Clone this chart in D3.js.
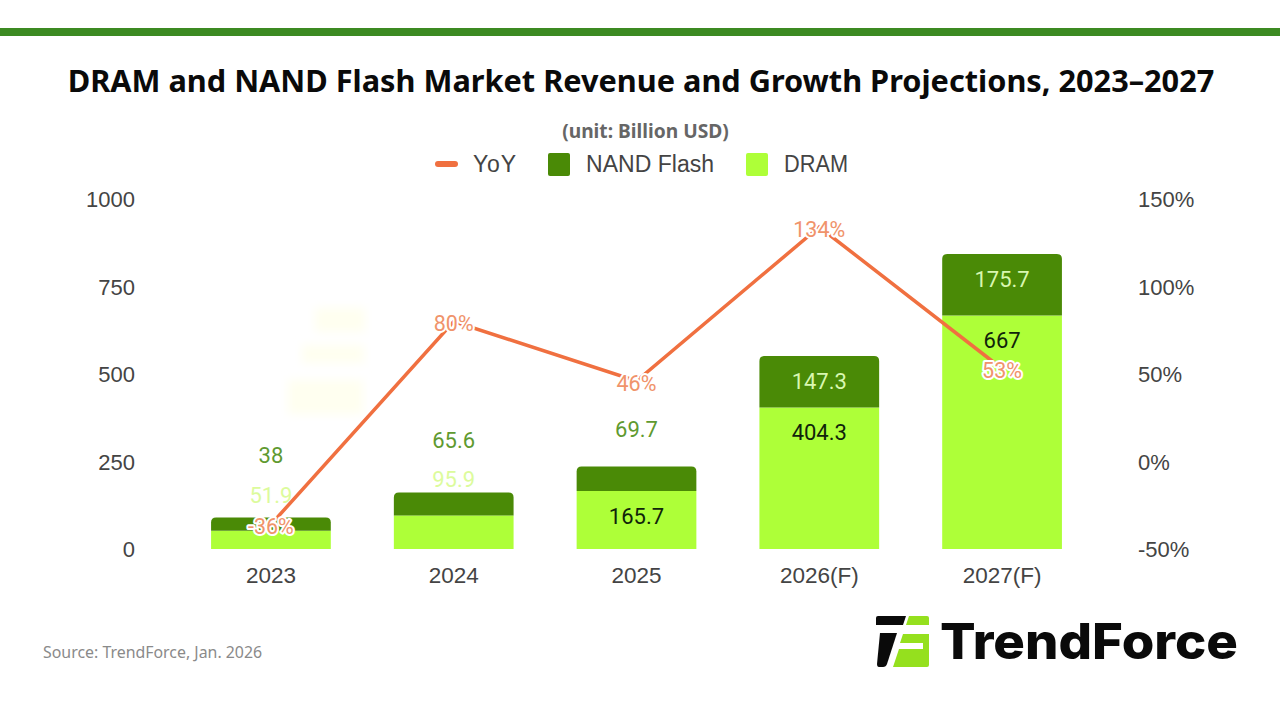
<!DOCTYPE html>
<html>
<head>
    <title>DRAM and NAND Flash Market Revenue</title>
    <style>
        html, body { margin: 0; background: #fff; }
        svg { display: block; }
        .axis text { font-family: "Liberation Sans", Arial, sans-serif; font-size: 22px; fill: #444; }
        .axis path, .axis line { display: none; }
        .legend text { font-family: "Liberation Sans", Arial, sans-serif; font-size: 23px; fill: #444; }
        .val { font-family: Roboto, sans-serif; font-size: 22px; text-anchor: middle; dominant-baseline: central; }
        .yoy { font-family: Roboto, sans-serif; font-size: 21.5px; fill: #f0936b; text-anchor: middle; dominant-baseline: central;
               stroke: #fff; stroke-width: 4px; paint-order: stroke; stroke-linejoin: round; }
    </style>
    <script src="https://cdnjs.cloudflare.com/ajax/libs/d3/7.8.5/d3.min.js"></script>
</head>
<body>
    <div id="chart"></div>
    <script>
        const years = ["2023", "2024", "2025", "2026(F)", "2027(F)"];
        const dram = [51.9, 95.9, 165.7, 404.3, 667];
        const nand = [38, 65.6, 69.7, 147.3, 175.7];
        const yoy = [-36, 80, 46, 134, 53];
        const leftTicks = [0, 250, 500, 750, 1000];
        const rightTicks = [-50, 0, 50, 100, 150];

        // where the original puts its value labels, in left-axis units
        const dramLabelAt = [154, 200, 94, 334, 595];
        const nandLabelAt = [266, 309, 341, 479, 771];
        const dramLabelColor = ["#dcfb9c", "#dcfb9c", "#10240a", "#10240a", "#10240a"];
        const nandLabelColor = ["#5f9a30", "#5f9a30", "#5f9a30", "#d9f7b0", "#d9f7b0"];

        const width = 1280, height = 720;
        const green = "#4a8a06", lime = "#aeff38", orange = "#f07040";

        const svg = d3.select("#chart").append("svg")
            .attr("width", width)
            .attr("height", height);

        const defs = svg.append("defs");
        defs.append("filter").attr("id", "soft").append("feGaussianBlur").attr("stdDeviation", 5);

        const x = d3.scaleBand().domain(years).range([180, 1093]).paddingInner(0.345).paddingOuter(0.17);
        const y = d3.scaleLinear().domain([0, 1000]).range([549, 199]);
        const yRight = d3.scaleLinear().domain([-50, 150]).range([549, 199]);

        // header
        svg.append("rect").attr("x", 0).attr("y", 28).attr("width", width).attr("height", 8).attr("fill", "#3c8a22");
        svg.append("text").attr("x", 641).attr("y", 92)
            .attr("text-anchor", "middle")
            .style("font-family", "'Noto Sans', sans-serif").style("font-weight", 700).style("font-size", "30.7px")
            .style("fill", "#0a0a0a")
            .text("DRAM and NAND Flash Market Revenue and Growth Projections, 2023–2027");
        svg.append("text").attr("x", 645.5).attr("y", 138)
            .attr("text-anchor", "middle")
            .style("font-family", "'Noto Sans', sans-serif").style("font-weight", 700).style("font-size", "19.2px")
            .style("fill", "#666")
            .text("(unit: Billion USD)");

        // legend
        const legend = svg.append("g").attr("class", "legend");
        legend.append("rect").attr("x", 435).attr("y", 161).attr("width", 23).attr("height", 6).attr("rx", 3).attr("fill", orange);
        legend.append("text").attr("x", 473).attr("y", 172).attr("textLength", 43).text("YoY");
        legend.append("rect").attr("x", 548).attr("y", 153).attr("width", 22).attr("height", 23).attr("rx", 2).attr("fill", green);
        legend.append("text").attr("x", 586).attr("y", 172).attr("textLength", 128).text("NAND Flash");
        legend.append("rect").attr("x", 746).attr("y", 153).attr("width", 22).attr("height", 23).attr("rx", 2).attr("fill", lime);
        legend.append("text").attr("x", 784).attr("y", 172).attr("textLength", 64).attr("lengthAdjust", "spacingAndGlyphs").text("DRAM");

        // axes
        svg.append("g").attr("class", "axis").attr("transform", "translate(135,0.5)")
            .call(d3.axisLeft(y).tickValues(leftTicks).tickSize(0).tickPadding(0).tickFormat(d3.format("d")));
        svg.append("g").attr("class", "axis").attr("transform", "translate(1138,0.5)")
            .call(d3.axisRight(yRight).tickValues(rightTicks).tickSize(0).tickPadding(0).tickFormat(d => d + "%"));
        svg.append("g").attr("class", "axis").attr("transform", "translate(0,575)")
            .call(d3.axisBottom(x).tickSize(0).tickPadding(0))
            .selectAll("text").attr("dy", "0.35em").attr("y", 0).style("font-size", "22.5px");
        svg.selectAll(".axis").attr("font-family", null);

        // faint ghost behind the line, left over in the source image
        const ghost = svg.append("g").attr("fill", "#fffff0").attr("filter", "url(#soft)");
        ghost.append("rect").attr("x", 315).attr("y", 308).attr("width", 50).attr("height", 24);
        ghost.append("rect").attr("x", 302).attr("y", 345).attr("width", 62).attr("height", 18);
        ghost.append("rect").attr("x", 288).attr("y", 380).attr("width", 75).attr("height", 34);

        // stacked bars, NAND on top with rounded corners
        const bars = svg.append("g");
        bars.selectAll(".dram").data(years).enter().append("rect")
            .attr("class", "dram")
            .attr("x", d => x(d))
            .attr("width", x.bandwidth())
            .attr("y", (d, i) => y(dram[i]))
            .attr("height", (d, i) => y(0) - y(dram[i]))
            .attr("fill", lime);
        bars.selectAll(".nand").data(years).enter().append("path")
            .attr("class", "nand")
            .attr("d", (d, i) => {
                const x0 = x(d), x1 = x(d) + x.bandwidth(), top = y(dram[i] + nand[i]), bot = y(dram[i]), r = 5;
                return `M${x0},${bot}V${top + r}Q${x0},${top} ${x0 + r},${top}H${x1 - r}Q${x1},${top} ${x1},${top + r}V${bot}Z`;
            })
            .attr("fill", green);

        // value labels
        const labels = svg.append("g");
        labels.selectAll(".dv").data(years).enter().append("text")
            .attr("class", "val dv")
            .attr("x", d => x(d) + x.bandwidth() / 2)
            .attr("y", (d, i) => y(dramLabelAt[i]))
            .style("fill", (d, i) => dramLabelColor[i])
            .text((d, i) => dram[i]);
        labels.selectAll(".nv").data(years).enter().append("text")
            .attr("class", "val nv")
            .attr("x", d => x(d) + x.bandwidth() / 2)
            .attr("y", (d, i) => y(nandLabelAt[i]))
            .style("fill", (d, i) => nandLabelColor[i])
            .text((d, i) => nand[i]);

        // YoY line
        const line = d3.line()
            .x((d, i) => x(years[i]) + x.bandwidth() / 2)
            .y(d => yRight(d));
        svg.append("path")
            .attr("d", line(yoy))
            .attr("fill", "none")
            .attr("stroke", orange)
            .attr("stroke-width", 3.5);
        svg.selectAll(".yoy").data(yoy).enter().append("text")
            .attr("class", "yoy")
            .attr("x", (d, i) => x(years[i]) + x.bandwidth() / 2)
            .attr("y", d => yRight(d) + 2)
            .text(d => d + "%");

        // source + logo
        svg.append("text").attr("x", 43).attr("y", 658)
            .style("font-family", "'Noto Sans', sans-serif").style("font-size", "15.9px").style("fill", "#8a8a8a")
            .text("Source: TrendForce, Jan. 2026");

        const logo = svg.append("g");
        logo.append("path").attr("fill", "#0a0a0a").attr("d", "M878,616H906L903,625H876V618Q876,616 878,616Z");
        logo.append("path").attr("fill", "#0a0a0a").attr("d", "M880,633H897L887,664Q886,667 883,667H879Q877,667 877,664Z");
        logo.append("path").attr("fill", "#95e01e").attr("d", "M909,616H927Q929,616 929,618V625H906Z");
        logo.append("path").attr("fill", "#95e01e").attr("d", "M903,634H929V665Q929,667 927,667H893L899,649H923V643H900Z");
        logo.append("text").attr("x", 940).attr("y", 659)
            .attr("textLength", 298).attr("lengthAdjust", "spacingAndGlyphs")
            .style("font-family", "Inter, sans-serif").style("font-weight", 800).style("font-size", "50px")
            .style("fill", "#0a0a0a")
            .text("TrendForce");
    </script>
</body>
</html>
